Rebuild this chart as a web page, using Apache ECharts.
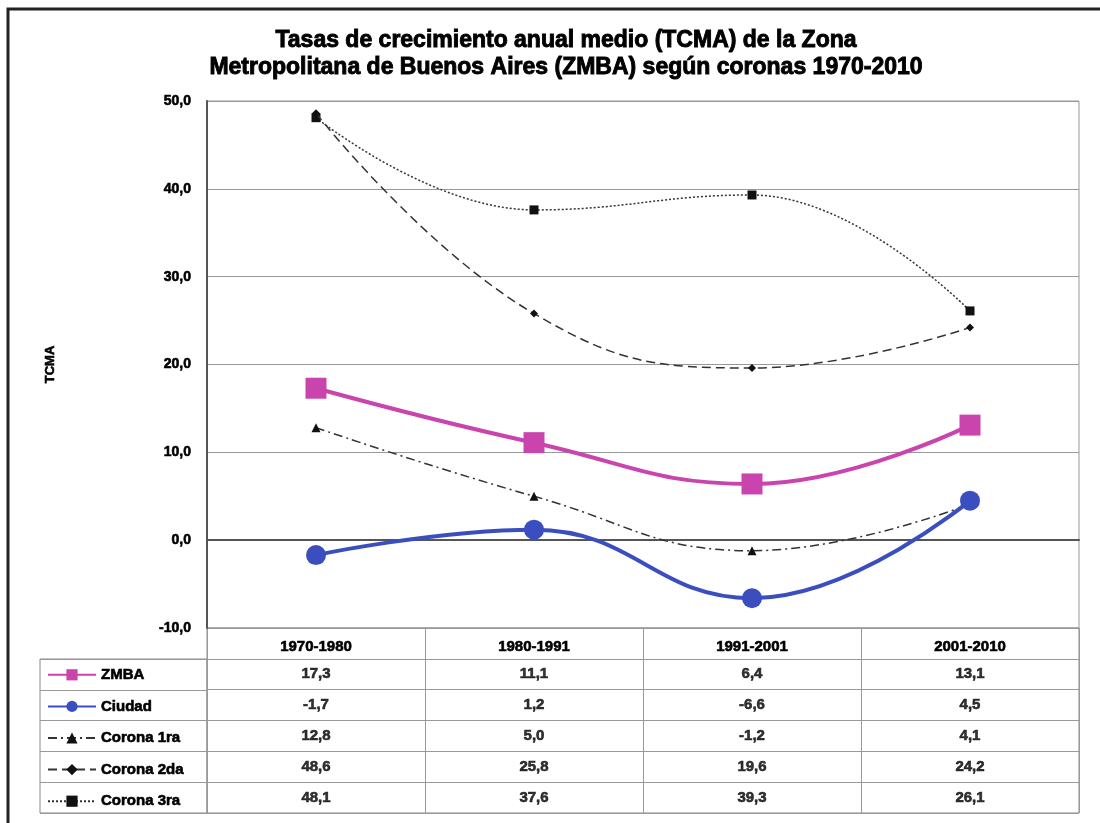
<!DOCTYPE html>
<html>
<head>
<meta charset="utf-8">
<script src="https://cdn.jsdelivr.net/npm/echarts@6/dist/echarts.min.js"></script>
<style>
  html, body { margin: 0; padding: 0; background: #fff; }
  #chart { width: 1100px; height: 823px; }
</style>
</head>
<body>
<div id="chart"></div>
<script>
const periodos = ['1970-1980', '1980-1991', '1991-2001', '2001-2010'];
const nombres = ['ZMBA', 'Ciudad', 'Corona 1ra', 'Corona 2da', 'Corona 3ra'];
const zmba = [17.3, 11.1, 6.4, 13.1];
const ciudad = [-1.7, 1.2, -6.6, 4.5];
const corona1 = [12.8, 5.0, -1.2, 4.1];
const corona2 = [48.6, 25.8, 19.6, 24.2];
const corona3 = [48.1, 37.6, 39.3, 26.1];
const yTicks = { min: -10, max: 50, interval: 10 };

const valores = [zmba, ciudad, corona1, corona2, corona3];
const fmt = v => v.toFixed(1).replace('.', ',');
const fuente = "'Liberation Sans', Arial, sans-serif";
// trazo extra para que el texto se vea tan grueso como en el original
const grueso = { textBorderColor: '#000', textBorderWidth: 0.6 };

const chart = echarts.init(document.getElementById('chart'));

// celdas de la tabla: [periodo, fila, valor]
const celdas = [];
nombres.forEach((n, i) => {
  periodos.forEach((p, j) => celdas.push([p, n, valores[i][j]]));
});

const estilos = [
  { color: '#c944ad', width: 4, type: 'solid', symbol: 'rect', size: 21 },
  { color: '#3b4ec0', width: 4, type: 'solid', symbol: 'circle', size: 20 },
  { color: '#333', width: 1.5, type: [9, 4, 2, 4], symbol: 'triangle', size: 9 },
  { color: '#333', width: 1.5, type: [9, 5], symbol: 'diamond', size: 8 },
  { color: '#333', width: 1.5, type: [2, 2], symbol: 'rect', size: 9 }
];

const lineas = nombres.map((n, i) => ({
  name: n,
  type: 'line',
  xAxisIndex: 0,
  yAxisIndex: 0,
  data: valores[i],
  smooth: 0.45,
  symbol: estilos[i].symbol,
  symbolSize: estilos[i].size,
  itemStyle: { color: i < 2 ? estilos[i].color : '#111' },
  lineStyle: { color: estilos[i].color, width: estilos[i].width, type: estilos[i].type },
  z: 5 - i
}));

const option = {
  animation: false,
  backgroundColor: '#fff',
  title: {
    text: 'Tasas de crecimiento anual medio (TCMA) de la Zona\nMetropolitana de Buenos Aires (ZMBA) según coronas 1970-2010',
    left: 561,
    top: 22,
    textAlign: 'center',
    textStyle: Object.assign({ fontFamily: fuente, fontWeight: 'bold', fontSize: 23, lineHeight: 27, color: '#000' }, { textBorderColor: '#000', textBorderWidth: 0.9 })
  },
  legend: {
    data: nombres,
    orient: 'vertical',
    left: 42,
    top: 662,
    itemWidth: 48,
    itemHeight: 14,
    itemGap: 16,
    textStyle: Object.assign({ fontFamily: fuente, fontWeight: 'bold', fontSize: 15, color: '#000' }, grueso),
    selectedMode: false
  },
  graphic: [{
    type: 'rect',
    shape: { x: 8, y: 9, width: 1200, height: 1000 },
    style: { fill: 'none', stroke: '#222', lineWidth: 3 },
    silent: true
  }],
  grid: [
    { left: 207, right: 21, top: 101, height: 527, show: true, borderColor: '#999', borderWidth: 1 },
    { left: 207, right: 21, top: 628, bottom: 10, show: true, borderColor: '#888', borderWidth: 1 },
    { left: 40, width: 167, top: 659, bottom: 10, show: true, borderColor: '#888', borderWidth: 1 }
  ],
  xAxis: [
    {
      type: 'category', gridIndex: 0, data: periodos,
      axisLine: { lineStyle: { color: '#555', width: 2 } },
      axisTick: { show: false },
      axisLabel: Object.assign({ margin: 11, fontFamily: fuente, fontWeight: 'bold', fontSize: 15, color: '#000' }, grueso),
      splitLine: { show: false }
    },
    {
      type: 'category', gridIndex: 1, data: periodos,
      axisLine: { show: false }, axisTick: { show: false }, axisLabel: { show: false },
      splitLine: { show: true, interval: 0, lineStyle: { color: '#999' } }
    },
    { type: 'value', gridIndex: 2, show: false }
  ],
  yAxis: [
    {
      type: 'value', gridIndex: 0, min: yTicks.min, max: yTicks.max, interval: yTicks.interval,
      name: 'TCMA', nameLocation: 'middle', nameGap: 150,
      nameTextStyle: Object.assign({ fontFamily: fuente, fontWeight: 'bold', fontSize: 13, color: '#000' }, grueso),
      axisLine: { show: true, lineStyle: { color: '#555', width: 2 } },
      axisTick: { show: false },
      axisLabel: Object.assign({ margin: 16, formatter: v => fmt(v), fontFamily: fuente, fontWeight: 'bold', fontSize: 14, color: '#000' }, grueso),
      splitLine: { show: true, lineStyle: { color: '#999', width: 1 } }
    },
    {
      type: 'category', gridIndex: 1, inverse: true, data: [''].concat(nombres),
      axisLine: { show: false }, axisTick: { show: false }, axisLabel: { show: false },
      splitLine: { show: true, interval: 0, lineStyle: { color: '#999' } }
    },
    {
      type: 'category', gridIndex: 2, inverse: true, data: nombres,
      axisLine: { show: false }, axisTick: { show: false }, axisLabel: { show: false },
      splitLine: { show: true, interval: 0, lineStyle: { color: '#999' } }
    }
  ],
  series: lineas.concat([{
    name: 'tabla',
    type: 'scatter',
    xAxisIndex: 1,
    yAxisIndex: 1,
    symbolSize: 1,
    itemStyle: { color: 'rgba(0,0,0,0)' },
    data: celdas,
    label: Object.assign({
      show: true,
      position: 'inside',
      formatter: p => fmt(p.value[2]),
      fontFamily: fuente, fontWeight: 'bold', fontSize: 15, color: '#000'
    }, grueso),
    silent: true,
    z: 10
  }])
};

chart.setOption(option);
window.addEventListener('resize', () => chart.resize());
</script>
</body>
</html>
